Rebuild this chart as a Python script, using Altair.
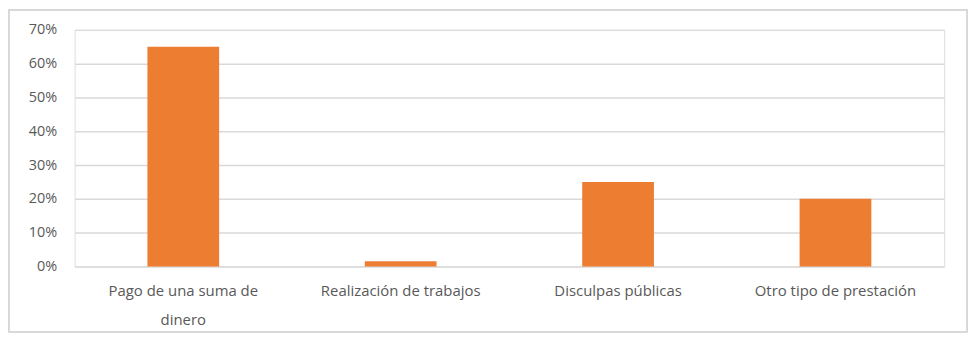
import altair as alt
import pandas as pd

categories = ["Pago de una suma de dinero", "Realización de trabajos", "Disculpas públicas", "Otro tipo de prestación"]
values = [0.65, 0.015, 0.25, 0.20]
y_ticks = [0, 0.1, 0.2, 0.3, 0.4, 0.5, 0.6, 0.7]

df = pd.DataFrame({"cat": categories, "val": values})

FONT = "Open Sans"
GRAY = "#595959"

frame = alt.Chart(pd.DataFrame({"a": [0]})).mark_rect(
    fill=None, stroke="#d9d9d9", strokeWidth=2
).encode(
    x=alt.value(-66), x2=alt.value(898), y=alt.value(-20), y2=alt.value(304)
)

bars = alt.Chart(df).mark_bar(color="#ed7d31").encode(
    x=alt.X("cat:N", sort=categories, title=None,
            scale=alt.Scale(paddingInner=0.67, paddingOuter=0.335),
            axis=alt.Axis(
                labelAngle=0, labelFont=FONT, labelFontSize=15, labelColor=GRAY,
                labelPadding=17, labelLineHeight=29, ticks=False, domain=False,
                labelLimit=300,
                labelExpr="datum.label == 'Pago de una suma de dinero' ? ['Pago de una suma de', 'dinero'] : datum.label",
            )),
    y=alt.Y("val:Q", title=None,
            scale=alt.Scale(domain=[0, 0.7], nice=False),
            axis=alt.Axis(values=y_ticks, format=".0%", labelFont=FONT, labelFontSize=14.5,
                          labelColor=GRAY, labelPadding=18, ticks=False, domain=False,
                          gridColor="#d9d9d9", gridWidth=1.5)),
)

chart = alt.layer(frame, bars).properties(
    width=875, height=238,
    autosize=alt.AutoSizeParams(type="none"),
    padding={"left": 67, "top": 21, "right": 26, "bottom": 66},
).configure_view(stroke=None).configure(background="white")

chart.save("out.html", embed_options={"renderer": "svg", "actions": False})
